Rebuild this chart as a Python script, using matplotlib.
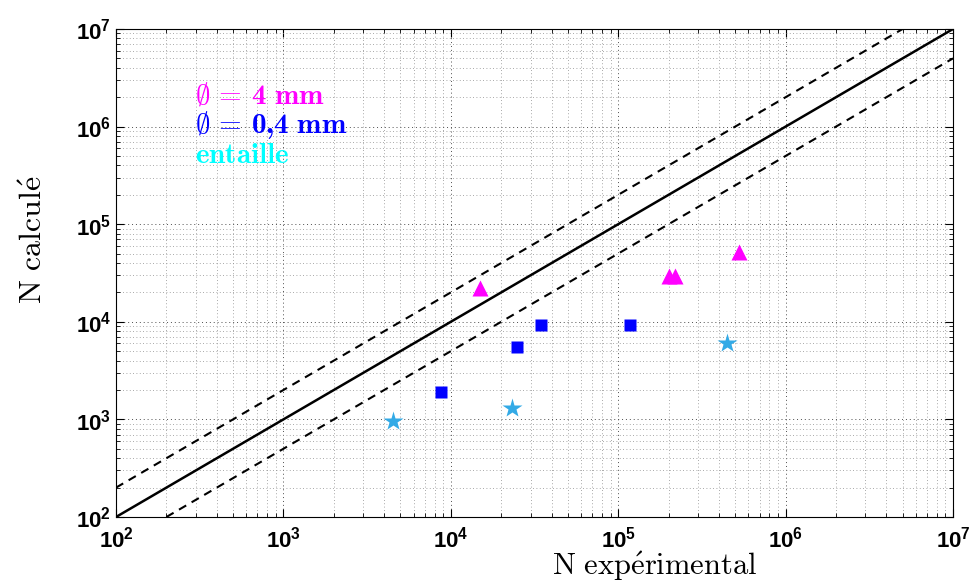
import numpy as np
import matplotlib
matplotlib.use("Agg")
import matplotlib.pyplot as plt
from matplotlib.ticker import LogLocator, FuncFormatter

# donnees
d4_exp = [15000, 201000, 218000, 525000]
d4_calc = [22200, 29500, 29500, 51900]

d04_exp = [8740, 24900, 34600, 117600]
d04_calc = [1910, 5520, 9270, 9270]

ent_exp = [4520, 23200, 447000]
ent_calc = [964, 1310, 6070]

diag = [1e2, 1e7]

plt.rcParams['mathtext.fontset'] = 'custom'
plt.rcParams['mathtext.rm'] = 'cmr10'
plt.rcParams['mathtext.bf'] = 'cmb10'
plt.rcParams['mathtext.sf'] = 'Liberation Sans:bold'
plt.rcParams['mathtext.it'] = 'cmmi10'

fig = plt.figure(figsize=(9.72, 5.82), dpi=100)
ax = fig.add_axes([116/972, 1 - 517/582, (953-116)/972, (517-29)/582])

d = np.array(diag)
ax.plot(d, d, 'k-', lw=1.8)
ax.plot(d, 2*d, 'k--', lw=1.5, dashes=(4, 3))
ax.plot(d, d/2, 'k--', lw=1.5, dashes=(4, 3))

ax.plot(d4_exp, d4_calc, '^', color='#ff00ff', ms=11, mec='none')
ax.plot(d04_exp, d04_calc, 's', color='#0000ff', ms=8, mec='none')
ax.plot(ent_exp, ent_calc, '*', color='#33aae6', ms=15, mec='none')

ax.set_xscale('log')
ax.set_yscale('log')
ax.set_xlim(1e2, 1e7)
ax.set_ylim(1e2, 1e7)

fmt = FuncFormatter(lambda v, p: r'$\mathsf{10^{%d}}$' % round(np.log10(v)))
ax.xaxis.set_major_formatter(fmt)
ax.yaxis.set_major_formatter(fmt)
ax.xaxis.set_minor_locator(LogLocator(subs=np.arange(2, 10)))
ax.yaxis.set_minor_locator(LogLocator(subs=np.arange(2, 10)))
ax.tick_params(which='both', direction='in', top=True, right=True, labelsize=16)
ax.tick_params(which='major', length=6, width=0.8)
ax.tick_params(which='minor', length=3, width=0.6)
ax.tick_params(axis='x', pad=6)

ax.grid(True, which='major', ls=(0, (1, 3)), color='0.3', lw=0.7)
ax.grid(True, which='minor', ls=(0, (1, 3)), color='0.55', lw=0.6)

fig.text(655/972, 1 - 566/582, r'$\mathrm{N\ exp\acute{e}rimental}$',
         ha='center', va='center', fontsize=22)
fig.text(33/972, 1 - 240/582, r'$\mathrm{N\ calcul\acute{e}}$',
         ha='center', va='center', fontsize=23, rotation=90)

ax.text(0.094, 0.863, r'$\emptyset\,=\,\mathbf{4\ mm}$', color='#ff00ff',
        transform=ax.transAxes, fontsize=21, va='center')
ax.text(0.094, 0.804, r'$\emptyset\,=\,\mathbf{0{,}4\ mm}$', color='#0000ff',
        transform=ax.transAxes, fontsize=21, va='center')
ax.text(0.094, 0.741, r'$\mathbf{entaille}$', color='#00ffff',
        transform=ax.transAxes, fontsize=21, va='center')

fig.savefig('out.png', dpi=100)
